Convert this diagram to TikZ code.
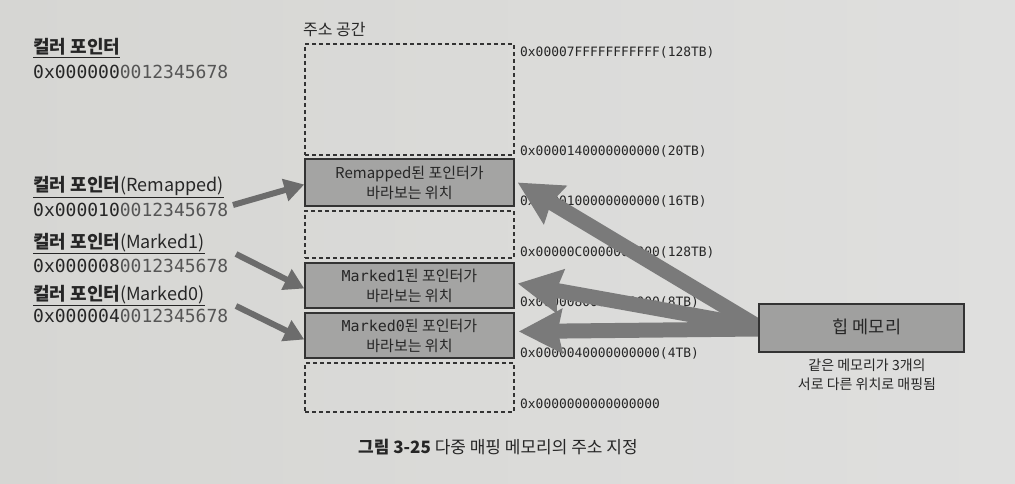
\documentclass[tikz,border=0pt]{standalone}
\usepackage{fontspec}
\setmainfont{Noto Sans CJK KR}
\newfontfamily\mono{DejaVu Sans Mono}
\usetikzlibrary{arrows.meta}
\definecolor{bgl}{HTML}{D6D6D3}
\definecolor{bgr}{HTML}{DFDFDE}
\definecolor{txt}{HTML}{262626}
\definecolor{txtlt}{HTML}{555555}
\definecolor{boxline}{HTML}{333333}
\definecolor{boxfill}{HTML}{A4A4A3}
\definecolor{heapfill}{HTML}{A0A09F}
\definecolor{arrA}{HTML}{6C6C6C}
\definecolor{arrB}{HTML}{7A7A7A}
\tikzset{
  membox/.style={draw=boxline, line width=1.4pt, fill=boxfill, minimum width=209pt,
    inner sep=0pt, align=center, text=txt, font=\fontsize{15}{20}\selectfont},
  emptybox/.style={draw=boxline, line width=1.4pt, dash pattern=on 4pt off 3pt,
    minimum width=209pt, inner sep=0pt},
  ptrarrow/.style={draw=arrA, line width=6pt, -{Triangle[length=20pt,width=22pt]}},
  heaparrow/.style={draw=arrB, line width=15pt, -{Stealth[length=43pt,width=43pt,inset=4pt]}},
  lbl/.style={anchor=base west, inner sep=0pt, text=txt, font=\fontsize{18}{20}\selectfont},
  hex/.style={anchor=base west, inner sep=0pt, text=txt, font=\mono\fontsize{18}{20}\selectfont},
  addr/.style={anchor=base west, inner sep=0pt, text=txt, font=\mono\fontsize{12.9}{14}\selectfont},
}
\begin{document}
\begin{tikzpicture}[x=1pt,y=-1pt]
\shade[left color=bgl, right color=bgr] (0,0) rectangle (1015,484);
\useasboundingbox (0,0) rectangle (1015,484);

% address space column
\node[anchor=base west, inner sep=0pt, text=txt, font=\fontsize{16}{18}\selectfont] (title) at (303,36) {주소 공간};
\node[emptybox, minimum height=111pt] (top) at (409.5,99.5) {};
\node[membox, minimum height=47pt] (rem) at (409.5,182.5) {Remapped된 포인터가\\바라보는 위치};
\node[emptybox, minimum height=47pt] (gap) at (409.5,234.5) {};
\node[membox, minimum height=45pt] (m1) at (409.5,285.5) {{\mono Marked1}된 포인터가\\바라보는 위치};
\node[membox, minimum height=45pt] (m0) at (409.5,335.5) {{\mono Marked0}된 포인터가\\바라보는 위치};
\node[emptybox, minimum height=49pt] (bot) at (409.5,387.5) {};

% address labels
\node[addr] (a1) at (520,57) {0x00007FFFFFFFFFFF(128TB)};
\node[addr] (a2) at (520,156) {0x0000140000000000(20TB)};
\node[addr] (a3) at (520,205) {0x0000100000000000(16TB)};
\node[addr] (a4) at (520,256) {0x00000C0000000000(128TB)};
\node[addr] (a5) at (520,306) {0x0000080000000000(8TB)};
\node[addr] (a6) at (520,357) {0x0000040000000000(4TB)};
\node[addr] (a7) at (520,408) {0x0000000000000000};

% heap arrows
\coordinate (hs) at (759,327);
\draw[heaparrow] (hs) -- ([xshift=3pt]rem.east);
\draw[heaparrow] (hs) -- ([xshift=3pt,yshift=2pt]m1.east);
\draw[heaparrow] ([yshift=-2pt]hs) -- ([xshift=4pt,yshift=4pt]m0.east);

% heap box
\node[draw=boxline, line width=1.4pt, fill=heapfill, minimum width=205pt, minimum height=48pt,
  inner sep=0pt] (heap) at (861.5,328) {};
\node[inner sep=0pt, text=txt, font=\fontsize{17.5}{20}\selectfont] (heaptxt) at (867,327) {힙 메모리};
\node[anchor=north, align=center, inner sep=0pt, text=txt, font=\fontsize{14}{19}\selectfont] (note)
  at (867,359) {같은 메모리가 3개의\\서로 다른 위치로 매핑됨};

% left pointers
\node[lbl] (p0) at (33,54) {\underline{\textbf{컬러 포인터}}};
\node[hex] (h0) at (33,79) {0x000000{\color{txtlt}0012345678}};
\node[lbl] (p1) at (33,192) {\underline{\textbf{컬러 포인터}(Remapped)}};
\node[hex] (h1) at (33,216) {0x000010{\color{txtlt}0012345678}};
\node[lbl] (p2) at (33,248) {\underline{\textbf{컬러 포인터}(Marked1)}};
\node[hex] (h2) at (33,272) {0x000008{\color{txtlt}0012345678}};
\node[lbl] (p3) at (33,300) {\underline{\textbf{컬러 포인터}(Marked0)}};
\node[hex] (h3) at (33,322) {0x000004{\color{txtlt}0012345678}};

\coordinate (s1) at (233,205);
\coordinate (s2) at (236,254);
\coordinate (s3) at (236,306);
\draw[ptrarrow] (s1) -- ([yshift=-2pt]rem.west);
\draw[ptrarrow] (s2) -- ([yshift=-3pt]m1.west);
\draw[ptrarrow] (s3) -- ([yshift=-4pt]m0.west);

% caption
\node[anchor=base west, inner sep=0pt, text=txt, font=\fontsize{17}{20}\selectfont] (cap) at (358,453)
  {\textbf{그림 3-25} 다중 매핑 메모리의 주소 지정};
\end{tikzpicture}
\end{document}
